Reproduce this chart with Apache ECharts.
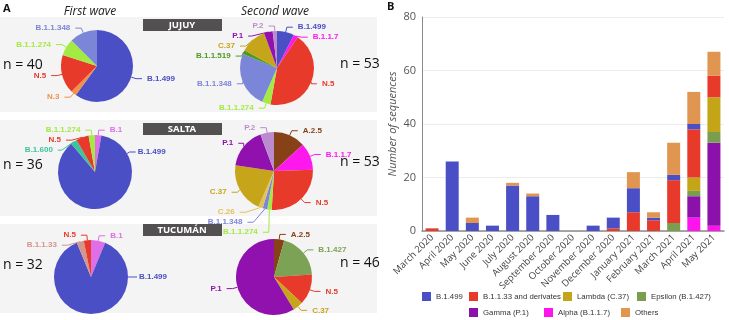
<!DOCTYPE html>
<html>
<head>
<meta charset="utf-8">
<script src="https://cdn.jsdelivr.net/npm/echarts@6/dist/echarts.min.js"></script>
<style>
  html, body { margin: 0; padding: 0; background: #fff; }
  #chart { width: 729px; height: 320px; }
</style>
</head>
<body>
<div id="chart"></div>
<script>
  // panel A: pie slices, clockwise from 12 o'clock
  const jujuy1Names = ['B.1.499', 'N.3', 'N.5', 'B.1.1.274', 'B.1.1.348'];
  const jujuy1Values = [24, 1, 7, 3, 5];
  const jujuy2Names = ['B.1.499', 'B.1.1.7', 'N.5', 'B.1.1.274', 'B.1.1.348', 'B.1.1.519', 'C.37', 'P.1', 'P.2'];
  const jujuy2Values = [4, 1, 23, 2, 13, 1, 6, 2, 1];
  const salta1Names = ['B.1', 'B.1.499', 'B.1.600', 'N.5', 'B.1.1.274'];
  const salta1Values = [1, 31, 1, 2, 1];
  const salta2Names = ['A.2.5', 'B.1.1.7', 'N.5', 'B.1.1.274', 'B.1.1.348', 'C.26', 'C.37', 'P.1', 'P.2'];
  const salta2Values = [7, 6, 14, 1, 1, 1, 11, 9, 3];
  const tucuman1Names = ['B.1', 'B.1.499', 'B.1.1.33', 'N.5'];
  const tucuman1Values = [2, 28, 1, 1];
  const tucuman2Names = ['A.2.5', 'B.1.427', 'N.5', 'C.37', 'P.1'];
  const tucuman2Values = [2, 9, 6, 2, 27];

  // panel B: sequences per month
  const months = ['March 2020', 'April 2020', 'May 2020', 'June 2020', 'July 2020', 'August 2020',
    'September 2020', 'October 2020', 'November 2020', 'December 2020', 'January 2021',
    'February 2021', 'March 2021', 'April 2021', 'May 2021'];
  const alphaCounts   = [0, 0, 0, 0, 0, 0, 0, 0, 0, 0, 0, 0, 0, 5, 2];
  const gammaCounts   = [0, 0, 0, 0, 0, 0, 0, 0, 0, 0, 0, 0, 0, 8, 31];
  const epsilonCounts = [0, 0, 0, 0, 0, 0, 0, 0, 0, 0, 0, 0, 3, 2, 4];
  const lambdaCounts  = [0, 0, 0, 0, 0, 0, 0, 0, 0, 0, 0, 0, 0, 5, 13];
  const b1133Counts   = [1, 0, 0, 0, 0, 0, 0, 0, 0, 1, 7, 4, 16, 18, 8];
  const b1499Counts   = [0, 26, 3, 2, 17, 13, 6, 0, 2, 4, 9, 1, 2, 2, 0];
  const otherCounts   = [0, 0, 2, 0, 1, 1, 0, 0, 0, 0, 6, 2, 12, 12, 9];
  const yTicks = [0, 20, 40, 60, 80];

  const lineageColor = {
    'B.1.499': '#4b4fc6', 'N.5': '#e83a2a', 'N.3': '#f29048', 'B.1.1.274': '#a3ea42',
    'B.1.1.348': '#7c86d8', 'B.1.1.7': '#ff18ee', 'B.1.1.519': '#4f9a20', 'C.37': '#c6a51b',
    'P.1': '#9011ae', 'P.2': '#bb8bd0', 'A.2.5': '#874117', 'B.1.600': '#3cc49c',
    'B.1': '#e06ee6', 'C.26': '#e2c25a', 'B.1.1.33': '#d4968c', 'B.1.427': '#7ca255'
  };

  const narrow = '"Liberation Sans"';

  const myChart = echarts.init(document.getElementById('chart'));

  // fixed = [dataIndex, angle] puts that label at the given angle (deg, clockwise from top)
  function pieSeries(names, values, cx, cy, r, fixed) {
    const s = {
      type: 'pie',
      center: [cx, cy],
      radius: r,
      startAngle: 90,
      clockwise: true,
      avoidLabelOverlap: true,
      label: {
        show: true,
        position: 'outside',
        fontSize: 8,
        fontWeight: 'bold',
        fontFamily: narrow,
        formatter: '{b}'
      },
      labelLine: { show: true, length: 5, length2: 6, lineStyle: { width: 1 } },
      emphasis: { disabled: true },
      data: names.map((n, i) => ({
        name: n,
        value: values[i],
        itemStyle: { color: lineageColor[n] },
        label: { color: lineageColor[n] }
      }))
    };
    if (fixed) {
      s.labelLayout = function (params) {
        if (params.dataIndex !== fixed[0]) return {};
        const a = fixed[1] * Math.PI / 180;
        const px = cx + r * Math.sin(a), py = cy - r * Math.cos(a);
        const ex = cx + (r + 3) * Math.sin(a), ey = cy - (r + 3) * Math.cos(a);
        const tx = ex + 6;
        return {
          x: tx + 2, y: ey, align: 'left', verticalAlign: 'middle',
          labelLinePoints: [[px, py], [ex, ey], [tx, ey]]
        };
      };
    }
    return s;
  }

  function barSeries(name, data, color) {
    return {
      name: name,
      type: 'bar',
      stack: 'total',
      barWidth: 13,
      data: data,
      itemStyle: { color: color },
      emphasis: { disabled: true }
    };
  }

  // grey backgrounds, headers and n labels of panel A
  const panels = [[17, 95], [120, 96], [224, 89]];
  const headers = [['JUJUY', 19], ['SALTA', 123], ['TUCUMÁN', 224]];
  const nLabels = [['n = 40', 3, 65], ['n = 53', 340, 64], ['n = 36', 3, 165],
    ['n = 53', 340, 162], ['n = 32', 3, 265], ['n = 46', 340, 263]];

  const graphics = [];
  panels.forEach(p => graphics.push({
    type: 'rect', shape: { x: 0, y: p[0], width: 377, height: p[1] },
    style: { fill: '#f4f4f4' }, z: -10
  }));
  headers.forEach(h => {
    graphics.push({
      type: 'rect', shape: { x: 143, y: h[1], width: 79, height: 12 },
      style: { fill: '#525050' }, z: -5
    });
    graphics.push({
      type: 'text', x: 182, y: h[1] + 6, z: -4,
      style: { text: h[0], fill: '#fff', font: 'bold 9.5px "Noto Sans"', align: 'center', verticalAlign: 'middle' }
    });
  });
  nLabels.forEach(t => graphics.push({
    type: 'text', x: t[1], y: t[2], z: -4,
    style: { text: t[0], fill: '#111', font: '14px "Open Sans"', verticalAlign: 'middle' }
  }));
  graphics.push({ type: 'text', x: 3, y: 9, style: { text: 'A', fill: '#111', font: 'bold 11px "Open Sans"', verticalAlign: 'middle' } });
  graphics.push({ type: 'text', x: 387, y: 7, style: { text: 'B', fill: '#111', font: 'bold 11px "Open Sans"', verticalAlign: 'middle' } });
  graphics.push({ type: 'text', x: 90, y: 12, style: { text: 'First wave', fill: '#222', font: 'italic 12px "Open Sans"', align: 'center', verticalAlign: 'middle' } });
  graphics.push({ type: 'text', x: 275, y: 12, style: { text: 'Second wave', fill: '#222', font: 'italic 12px "Open Sans"', align: 'center', verticalAlign: 'middle' } });

  // one legend per entry so the two rows sit where they do in the figure
  const legendSlots = [
    ['B.1.499', 422, 292], ['B.1.1.33 and derivates', 469, 292], ['Lambda (C.37)', 563, 292],
    ['Epsilon (B.1.427)', 637, 292], ['Gamma (P.1)', 469, 308], ['Alpha (B.1.1.7)', 544, 308],
    ['Others', 621, 308]
  ];
  const legends = legendSlots.map(l => ({
    left: l[1], top: l[2], padding: 0, itemWidth: 9, itemHeight: 9, itemGap: 0, icon: 'rect',
    textStyle: { fontSize: 7.8, color: '#333', fontFamily: narrow },
    data: [l[0]]
  }));

  const option = {
    animation: false,
    textStyle: { fontFamily: 'Open Sans' },
    graphic: graphics,
    legend: legends,
    grid: { left: 422, right: 5, top: 17, bottom: 89 },
    xAxis: {
      type: 'category',
      data: months,
      axisTick: { show: false },
      axisLine: { lineStyle: { color: '#8a8a8a', width: 1.5 } },
      axisLabel: { rotate: 45, fontSize: 9.5, color: '#444', margin: 5, interval: 0 }
    },
    yAxis: {
      type: 'value',
      min: 0, max: yTicks[yTicks.length - 1], interval: 20,
      name: 'Number of sequences',
      nameLocation: 'middle',
      nameGap: 24,
      nameTextStyle: { fontStyle: 'italic', fontSize: 11, color: '#555' },
      axisLine: { show: true, lineStyle: { color: '#8a8a8a' } },
      axisLabel: { fontSize: 11, color: '#555', margin: 6 },
      splitLine: { lineStyle: { color: '#ececec' } }
    },
    series: [
      pieSeries(jujuy1Names, jujuy1Values, 97, 66, 36),
      pieSeries(jujuy2Names, jujuy2Values, 277, 68, 37),
      pieSeries(salta1Names, salta1Values, 95, 172, 37, [1, 60]),
      pieSeries(salta2Names, salta2Values, 274, 171, 39),
      pieSeries(tucuman1Names, tucuman1Values, 91, 277, 37, [1, 90]),
      pieSeries(tucuman2Names, tucuman2Values, 274, 277, 38),
      barSeries('Alpha (B.1.1.7)', alphaCounts, '#ff14ee'),
      barSeries('Gamma (P.1)', gammaCounts, '#8c10aa'),
      barSeries('Epsilon (B.1.427)', epsilonCounts, '#7a9e4f'),
      barSeries('Lambda (C.37)', lambdaCounts, '#c4a517'),
      barSeries('B.1.1.33 and derivates', b1133Counts, '#e83a2a'),
      barSeries('B.1.499', b1499Counts, '#4b4fc6'),
      barSeries('Others', otherCounts, '#e09550')
    ]
  };

  myChart.setOption(option);
</script>
</body>
</html>
